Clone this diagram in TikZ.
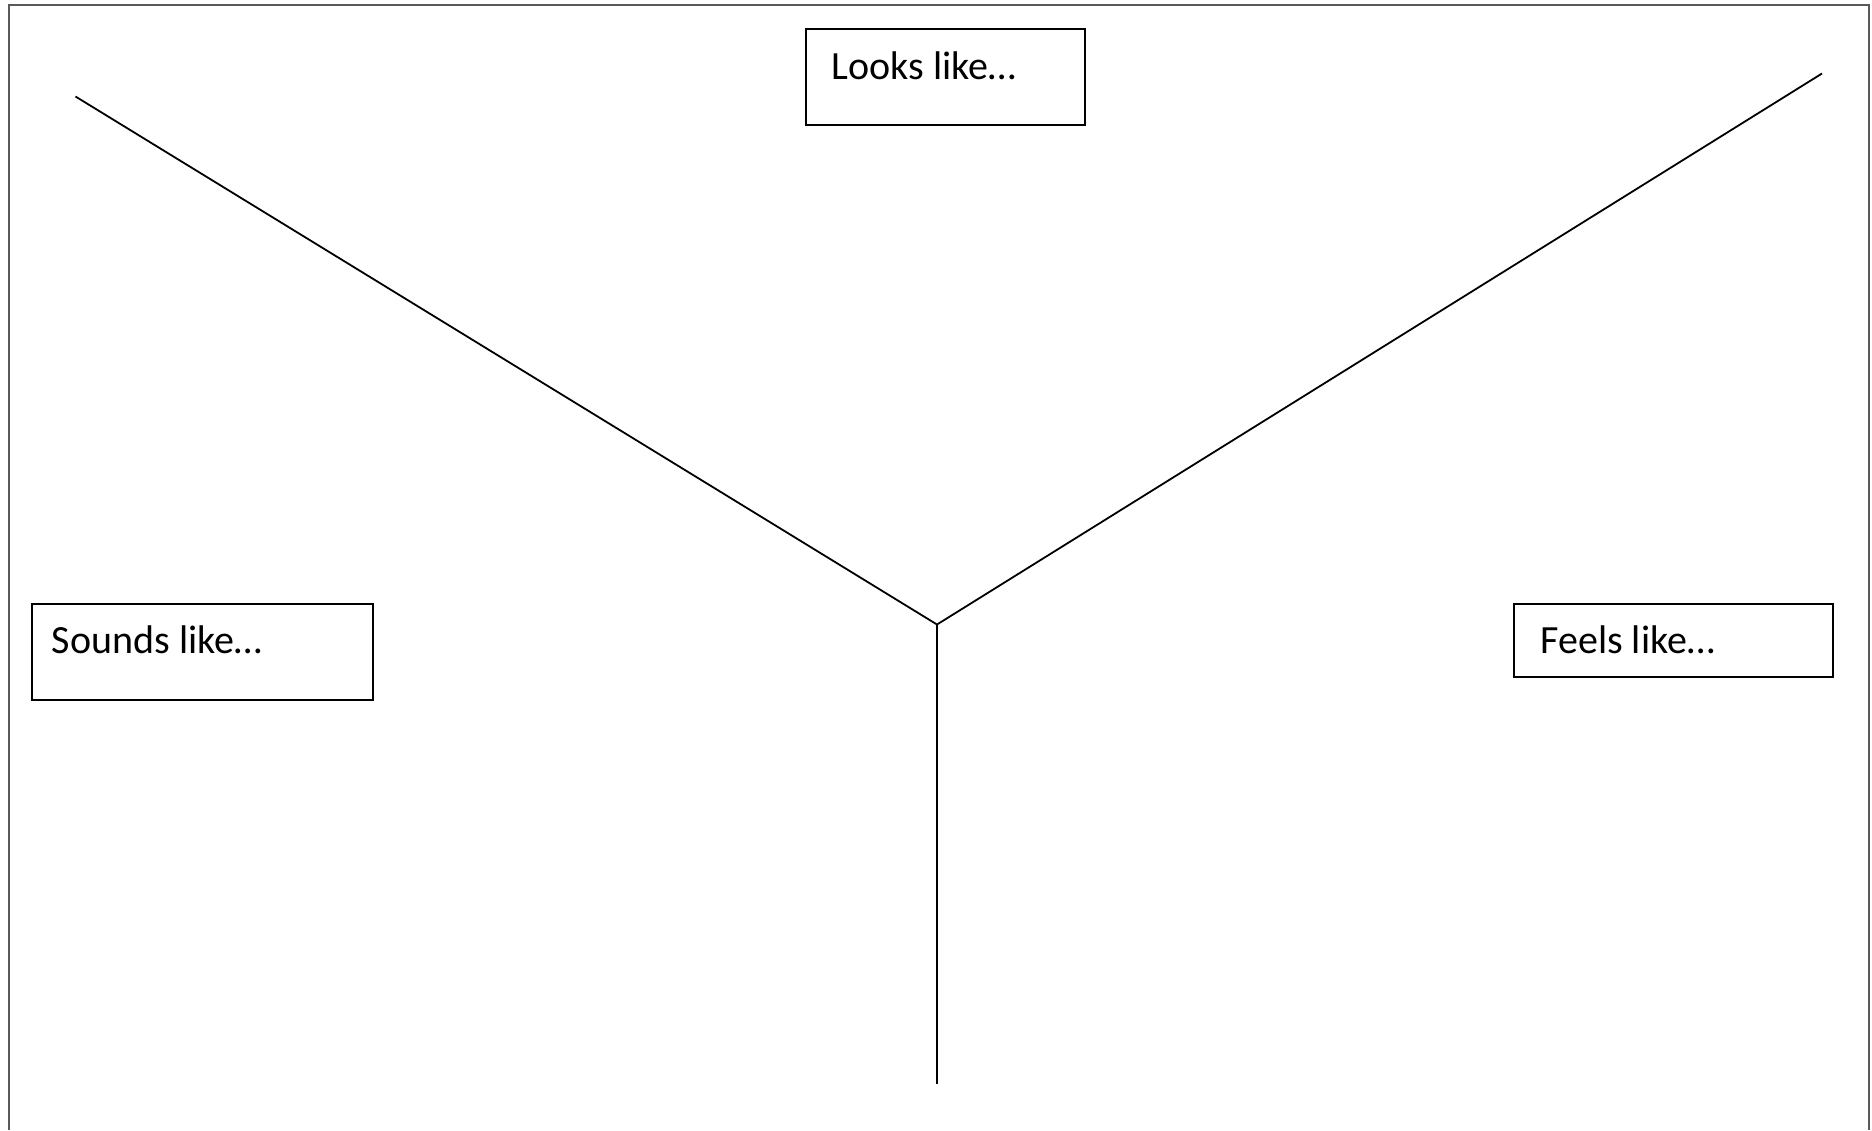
\documentclass[tikz,border=0pt]{standalone}
\usepackage{fontspec}
\setmainfont{Carlito}
\begin{document}
\begin{tikzpicture}[x=0.5pt,y=-0.5pt,
  framebox/.style={draw=black, line width=1pt, fill=white, rectangle, anchor=north west, inner sep=0pt},
  boxlabel/.style={anchor=base west, inner sep=0pt, font=\fontsize{20pt}{24pt}\selectfont},
  yline/.style={draw=black, line width=0.9pt}]
\useasboundingbox (0,0) rectangle (1872,1130);
\fill[white] (0,0) rectangle (1872,1130);
\draw[draw=black!65, line width=1pt] (9,1130) -- (9,5) -- (1869,5) -- (1869,1130);
% Y lines
\coordinate (tl) at (75.5,96.5);
\coordinate (tr) at (1822,73.5);
\coordinate (c) at (937,624.5);
\coordinate (b) at (937,1084);
\draw[yline] (tl) -- (c) -- (tr);
\draw[yline] (c) -- (b);
% boxes
\node[framebox, minimum width=139.75pt, minimum height=48pt] (lookbox) at (804.5,28) {};
\node[boxlabel] (looktext) at (831.5,79) {Looks like…};
\node[framebox, minimum width=170.7pt, minimum height=48pt] (soundbox) at (31,603) {};
\node[boxlabel] (soundtext) at (51.5,653) {Sounds like…};
\node[framebox, minimum width=159.6pt, minimum height=36.5pt] (feelbox) at (1512.5,603) {};
\node[boxlabel] (feeltext) at (1540,653) {Feels like…};
\end{tikzpicture}
\end{document}
